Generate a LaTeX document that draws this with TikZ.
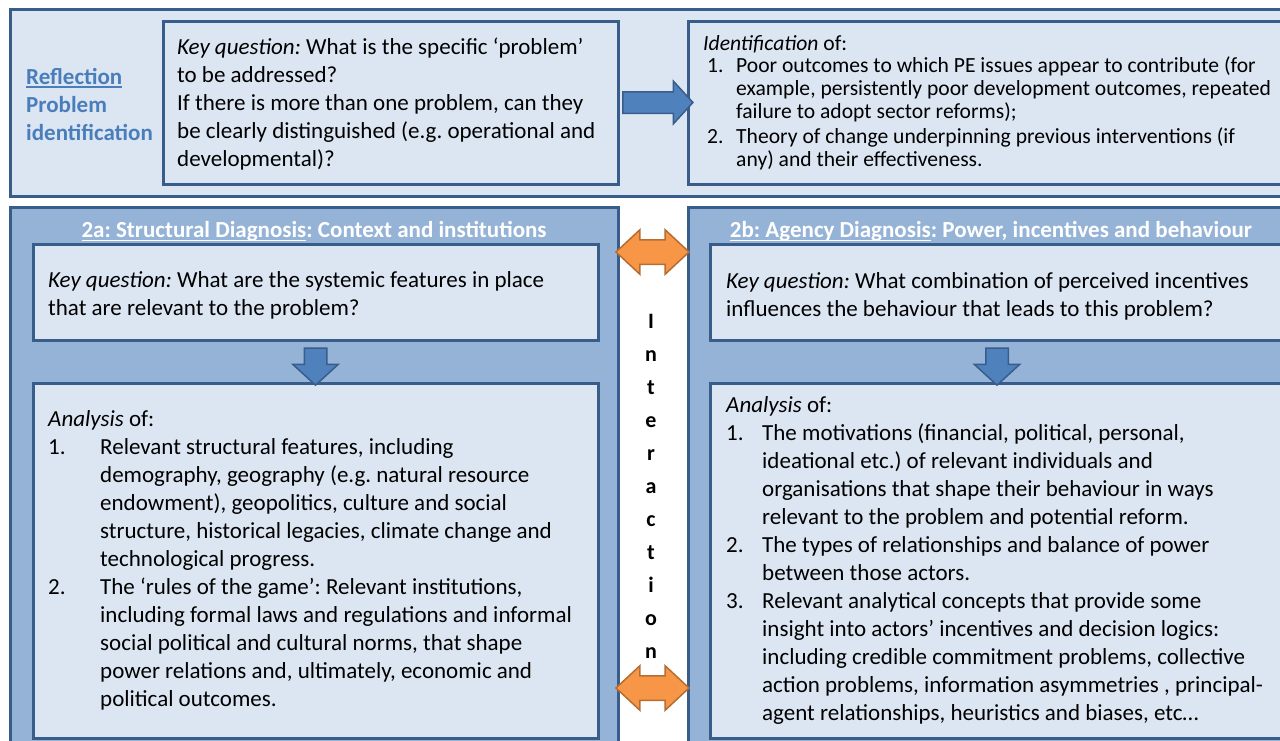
\documentclass[tikz,border=0pt]{standalone}
\usepackage{fontspec}
\setmainfont{Carlito}
\usetikzlibrary{positioning,calc,shapes.arrows}

\definecolor{boxfill}{HTML}{DCE6F2}
\definecolor{boxline}{HTML}{385D8A}
\definecolor{panelfill}{HTML}{95B3D7}
\definecolor{arrowblue}{HTML}{4F81BD}
\definecolor{arroworange}{HTML}{F79646}
\definecolor{orangeline}{HTML}{B66D31}
\definecolor{stepblue}{HTML}{4A7EBB}

\newcommand{\mainsize}{\fontsize{23}{28}\selectfont}
\newcommand{\idsize}{\fontsize{21.6}{22.7}\selectfont}
% underline with a rule thick enough to show at this scale
\newcommand{\ulbox}[1]{\leavevmode\setbox0\hbox{#1}\rlap{\vrule width\wd0 height -2.3pt depth 3.6pt}\box0}
\frenchspacing

\tikzset{
  band/.style={draw=boxline,line width=3pt,fill=boxfill,anchor=north west,outer sep=0pt,inner sep=0pt},
  panel/.style={band,fill=panelfill},
  qbox/.style={band},
  boxtext/.style={anchor=west,align=left,inner sep=0pt,font=\mainsize},
  paneltitle/.style={anchor=base,inner sep=0pt,font=\mainsize\bfseries,text=white},
  bluearrow/.style={single arrow,draw=boxline,line width=1.5pt,fill=arrowblue,inner sep=10pt,
    single arrow head extend=10.5pt,single arrow tip angle=95,outer sep=0pt},
  linkarrow/.style={double arrow,draw=orangeline,line width=1.5pt,fill=arroworange,inner sep=11.5pt,
    double arrow head extend=10pt,double arrow tip angle=86,minimum height=73pt,outer sep=0pt}
}

\begin{document}
\begin{tikzpicture}[x=1pt,y=-1pt]
\useasboundingbox (0,0) rectangle (1280,740);
\clip (0,0) rectangle (1280,740);

% step 1: problem identification
\node[band,minimum width=1300,minimum height=187] (reflect) at (10,9) {};
\node[boxtext,font=\mainsize\bfseries,text=stepblue] (reflecttext) at (26,104)
  {\ulbox{Reflection}\\Problem\\identification};
\node[qbox,minimum width=455,minimum height=163] (keyq) at (163,21) {};
\node[boxtext,right=14pt of keyq.west,yshift=-1.5pt] (keyqtext)
  {{\itshape Key question:} What is the specific ‘problem’\\
   to be addressed?\\
   If there is more than one problem, can they\\
   be clearly distinguished (e.g. operational and\\
   developmental)?};
\node[qbox,minimum width=610,minimum height=163] (ident) at (688,21) {};
\node[boxtext,font=\idsize,right=15pt of ident.west] (identtext)
  {{\itshape Identification} of:\\
   \hspace*{4pt}\makebox[29pt][l]{1.}Poor outcomes to which PE issues appear to contribute (for\\
   \hspace*{33pt}example, persistently poor development outcomes, repeated\\
   \hspace*{33pt}failure to adopt sector reforms);\\[2.5pt]
   \hspace*{4pt}\makebox[29pt][l]{2.}Theory of change underpinning previous interventions (if\\
   \hspace*{33pt}any) and their effectiveness.};
\node[bluearrow,minimum height=70pt] (toident) at ($(keyq.east)!0.5!(ident.west)$) {};

% step 2a: structural diagnosis
\node[panel,minimum width=608,minimum height=545] (structural) at (10,207) {};
\node[paneltitle] (structtitle) at (314,237.5)
  {\ulbox{2a: Structural Diagnosis}: Context and institutions};
\node[qbox,minimum width=565,minimum height=96] (skeyq) at (33,244) {};
\node[boxtext,right=15pt of skeyq.west,yshift=-3pt] (skeyqtext)
  {{\itshape Key question:} What are the systemic features in place\\
   that are relevant to the problem?};
\node[qbox,minimum width=565,minimum height=355] (sanalysis) at (33,383) {};
\node[boxtext,right=15pt of sanalysis.west] (sanalysistext)
  {{\itshape Analysis} of:\\
   \makebox[52pt][l]{1.}Relevant structural features, including\\
   \hspace*{52pt}demography, geography (e.g. natural resource\\
   \hspace*{52pt}endowment), geopolitics, culture and social\\
   \hspace*{52pt}structure, historical legacies, climate change and\\
   \hspace*{52pt}technological progress.\\
   \makebox[52pt][l]{2.}The ‘rules of the game’: Relevant institutions,\\
   \hspace*{52pt}including formal laws and regulations and informal\\
   \hspace*{52pt}social political and cultural norms, that shape\\
   \hspace*{52pt}power relations and, ultimately, economic and\\
   \hspace*{52pt}political outcomes.};
\node[bluearrow,minimum height=37pt,inner sep=10.5pt,single arrow head extend=11.5pt,rotate=-90]
  (sdown) at ($(skeyq.south)!0.5!(sanalysis.north)$) {};

% step 2b: agency diagnosis
\node[panel,minimum width=620,minimum height=545] (agency) at (688,207) {};
\node[paneltitle] (agencytitle) at (991,237.5)
  {\ulbox{2b: Agency Diagnosis}: Power, incentives and behaviour};
\node[qbox,minimum width=574,minimum height=96] (akeyq) at (710,244) {};
\node[boxtext,right=16pt of akeyq.west,yshift=-4pt] (akeyqtext)
  {{\itshape Key question:} What combination of perceived incentives\\
   influences the behaviour that leads to this problem?};
\node[qbox,minimum width=574,minimum height=355] (aanalysis) at (710,383) {};
\node[boxtext,right=16pt of aanalysis.west] (aanalysistext)
  {{\itshape Analysis} of:\\
   \makebox[36pt][l]{1.}The motivations (financial, political, personal,\\
   \hspace*{36pt}ideational etc.) of relevant individuals and\\
   \hspace*{36pt}organisations that shape their behaviour in ways\\
   \hspace*{36pt}relevant to the problem and potential reform.\\
   \makebox[36pt][l]{2.}The types of relationships and balance of power\\
   \hspace*{36pt}between those actors.\\
   \makebox[36pt][l]{3.}Relevant analytical concepts that provide some\\
   \hspace*{36pt}insight into actors’ incentives and decision logics:\\
   \hspace*{36pt}including credible commitment problems, collective\\
   \hspace*{36pt}action problems, information asymmetries , principal-\\
   \hspace*{36pt}agent relationships, heuristics and biases, etc…};
\node[bluearrow,minimum height=37pt,inner sep=10.5pt,single arrow head extend=11.5pt,rotate=-90]
  (adown) at ($(akeyq.south)!0.5!(aanalysis.north)$) {};

% interaction between 2a and 2b
\node[align=center,inner sep=0pt,font=\fontsize{22}{33}\selectfont\bfseries] (interaction) at (651,486)
  {I\\n\\t\\e\\r\\a\\c\\t\\i\\o\\n};
\node[linkarrow] (linktop) at (652.5,252) {};
\node[linkarrow] (linkbottom) at (652.5,688) {};
\end{tikzpicture}
\end{document}
